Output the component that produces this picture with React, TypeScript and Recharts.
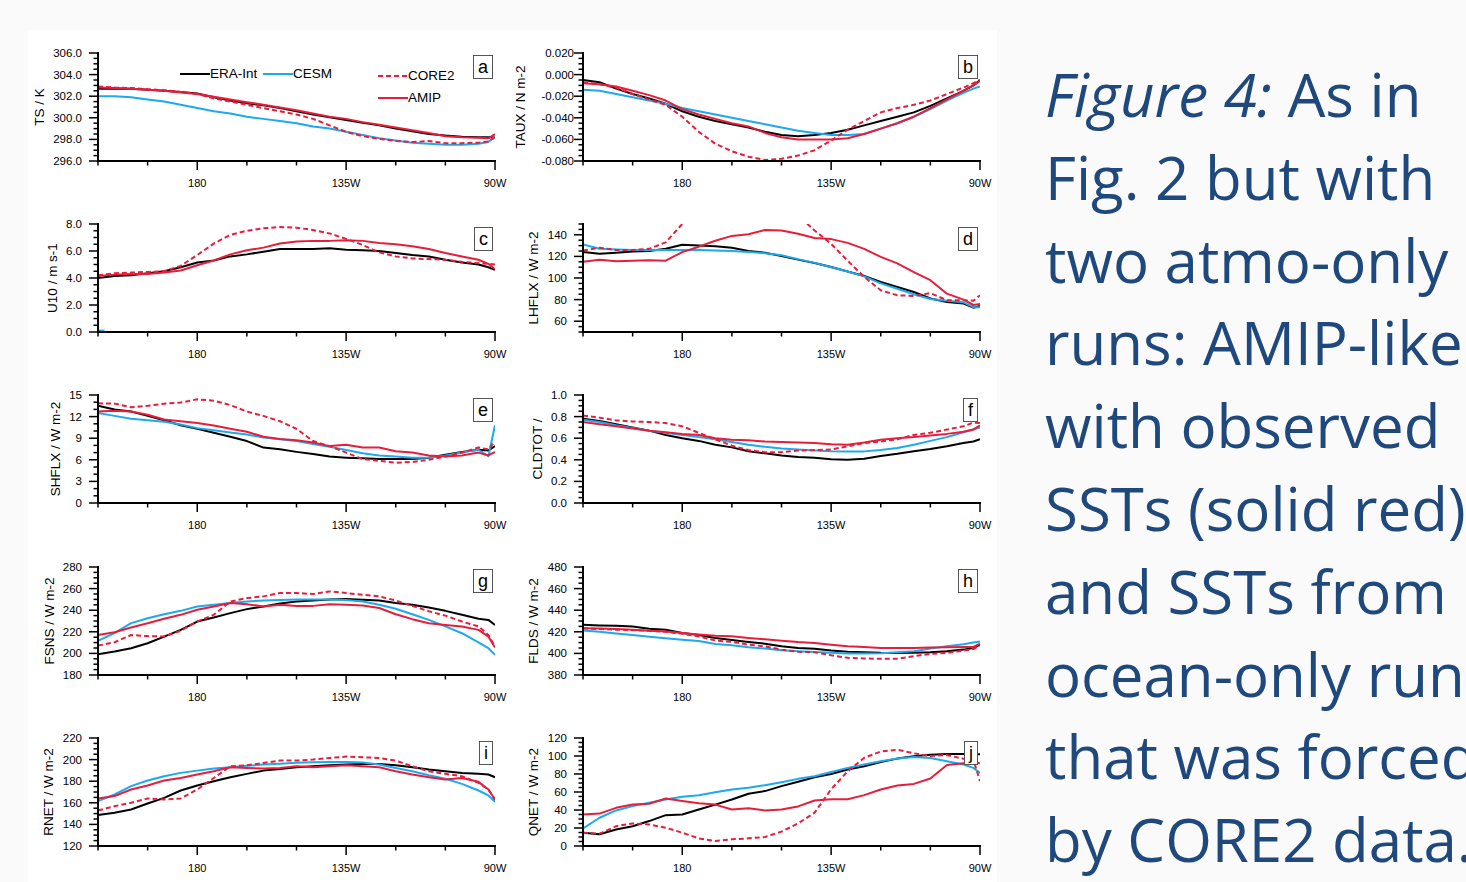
import React from 'react';
import { LineChart, Line, XAxis, YAxis } from 'recharts';

// longitude grid (degrees east), 150E .. 90W
const LON = [150, 155, 160, 165, 170, 175, 180, 185, 190, 195, 200, 205, 210, 215, 220, 225, 230, 235, 240, 245, 250, 255, 260, 265, 268, 270];
const X_TICKS = [150, 165, 180, 195, 210, 225, 240, 255, 270];
const X_MAJOR = [180, 225, 270];
const X_MAJOR_LABELS = ['180', '135W', '90W'];

// a) TS / K
const tsEra = [302.7, 302.7, 302.7, 302.6, 302.5, 302.4, 302.25, 301.9, 301.6, 301.35, 301.15, 300.9, 300.6, 300.3, 300.05, 299.8, 299.55, 299.3, 299.0, 298.75, 298.5, 298.35, 298.25, 298.2, 298.2, 298.2];
const tsCesm = [302.0, 302.0, 301.9, 301.7, 301.5, 301.2, 300.9, 300.6, 300.4, 300.1, 299.9, 299.7, 299.5, 299.2, 299.0, 298.7, 298.4, 298.1, 297.9, 297.7, 297.6, 297.5, 297.5, 297.6, 297.75, 298.3];
const tsCore2 = [302.9, 302.8, 302.75, 302.65, 302.55, 302.4, 302.2, 301.8, 301.5, 301.2, 300.9, 300.6, 300.3, 299.9, 299.3, 298.7, 298.3, 298.05, 297.85, 297.75, 297.85, 297.65, 297.65, 297.7, 297.8, 298.2];
const tsAmip = [302.8, 302.75, 302.7, 302.6, 302.5, 302.35, 302.2, 301.95, 301.7, 301.45, 301.2, 300.95, 300.7, 300.4, 300.1, 299.9, 299.6, 299.35, 299.1, 298.85, 298.6, 298.3, 298.2, 298.15, 298.1, 298.5];
const tsTicks = [296, 298, 300, 302, 304, 306];

// b) TAUX / N m-2
const tauxEra = [-0.005, -0.007, -0.013, -0.018, -0.022, -0.027, -0.034, -0.039, -0.043, -0.046, -0.049, -0.053, -0.056, -0.057, -0.056, -0.054, -0.051, -0.047, -0.043, -0.039, -0.035, -0.029, -0.022, -0.015, -0.010, -0.005];
const tauxCesm = [-0.014, -0.015, -0.018, -0.021, -0.024, -0.027, -0.031, -0.034, -0.037, -0.040, -0.043, -0.046, -0.049, -0.052, -0.054, -0.056, -0.056, -0.055, -0.050, -0.045, -0.039, -0.032, -0.024, -0.017, -0.013, -0.011];
const tauxCore2 = [-0.007, -0.009, -0.012, -0.018, -0.023, -0.028, -0.039, -0.053, -0.064, -0.071, -0.076, -0.079, -0.078, -0.075, -0.070, -0.061, -0.051, -0.043, -0.035, -0.031, -0.028, -0.024, -0.018, -0.012, -0.008, -0.005];
const tauxAmip = [-0.008, -0.009, -0.011, -0.015, -0.019, -0.024, -0.032, -0.037, -0.041, -0.045, -0.048, -0.054, -0.058, -0.060, -0.060, -0.060, -0.059, -0.055, -0.050, -0.045, -0.039, -0.031, -0.023, -0.015, -0.010, -0.006];
const tauxTicks = [-0.08, -0.06, -0.04, -0.02, 0, 0.02];

// c) U10 / m s-1 (CESM only has a stub at the west edge)
const u10Era = [4.0, 4.15, 4.2, 4.35, 4.5, 4.8, 5.15, 5.3, 5.6, 5.75, 5.95, 6.15, 6.15, 6.15, 6.2, 6.1, 6.05, 6.0, 5.85, 5.7, 5.6, 5.35, 5.15, 5.0, 4.8, 4.6];
const u10CesmLon = [150, 152];
const u10Cesm = [0.1, 0.1];
const u10Core2 = [4.2, 4.35, 4.4, 4.45, 4.5, 4.9, 5.7, 6.55, 7.2, 7.5, 7.68, 7.78, 7.73, 7.55, 7.3, 6.9, 6.45, 5.9, 5.6, 5.45, 5.4, 5.35, 5.2, 5.1, 5.05, 5.0];
const u10Amip = [4.15, 4.25, 4.3, 4.3, 4.4, 4.55, 4.95, 5.3, 5.75, 6.05, 6.25, 6.55, 6.7, 6.75, 6.75, 6.8, 6.75, 6.6, 6.5, 6.35, 6.15, 5.85, 5.6, 5.35, 5.05, 4.65];
const u10Ticks = [0, 2, 4, 6, 8];

// d) LHFLX / W m-2
const lhEra = [124, 122.5, 123.4, 124.6, 125, 127, 130.8, 130.2, 129.5, 128, 125, 123.4, 120.3, 117, 113.8, 110.2, 106, 101.8, 96.3, 91.7, 87, 81, 77.8, 76.3, 72.5, 74];
const lhCesm = [131, 127, 126.5, 126, 126, 126, 126, 126, 125.5, 125, 124, 123, 121, 117.5, 114, 110, 106, 101.5, 95, 90, 85, 80.5, 79, 77.5, 73, 73];
const lhCore2 = [125.5, 128, 126, 126, 127, 133, 150, 165, 175, 180, 182, 180, 172, 158, 144, 131.7, 116, 101, 88.6, 84, 83.4, 86, 79.4, 79.4, 79, 84];
const lhAmip = [115, 117, 115.5, 116, 116.5, 116, 124, 129, 134.5, 139, 140.5, 144.5, 144, 141, 137, 136, 132.5, 127, 119.5, 113.5, 105.5, 98, 85.5, 80, 75, 76];
const lhTicks = [60, 80, 100, 120, 140];

// e) SHFLX / W m-2
const shEra = [13.5, 13.0, 12.7, 12.1, 11.5, 10.8, 10.3, 9.75, 9.2, 8.6, 7.7, 7.45, 7.1, 6.8, 6.45, 6.3, 6.2, 6.1, 6.1, 6.1, 6.3, 6.7, 7.1, 7.4, 7.3, 7.9];
const shCesm = [12.5, 12.1, 11.7, 11.5, 11.3, 10.9, 10.4, 10.1, 9.8, 9.5, 9.1, 8.85, 8.6, 8.2, 7.8, 7.35, 6.9, 6.6, 6.45, 6.3, 6.3, 6.6, 7.0, 7.4, 6.5, 10.8];
const shCore2 = [13.85, 13.8, 13.3, 13.5, 13.8, 13.95, 14.4, 14.2, 13.6, 12.7, 12.1, 11.35, 10.3, 8.6, 7.9, 7.0, 6.1, 5.85, 5.6, 5.7, 6.0, 6.45, 7.0, 7.7, 7.45, 8.6];
const shAmip = [12.7, 12.8, 12.7, 12.25, 11.6, 11.35, 11.1, 10.75, 10.3, 9.9, 9.2, 8.9, 8.7, 8.4, 7.9, 8.1, 7.7, 7.7, 7.2, 7.0, 6.6, 6.45, 6.6, 7.0, 6.6, 7.1];
const shTicks = [0, 3, 6, 9, 12, 15];

// f) CLDTOT
const cldEra = [0.78, 0.76, 0.73, 0.70, 0.67, 0.63, 0.60, 0.575, 0.54, 0.515, 0.48, 0.46, 0.44, 0.425, 0.42, 0.405, 0.40, 0.41, 0.435, 0.455, 0.48, 0.50, 0.525, 0.555, 0.57, 0.59];
const cldCesm = [0.77, 0.75, 0.72, 0.695, 0.67, 0.65, 0.63, 0.61, 0.59, 0.565, 0.54, 0.52, 0.505, 0.495, 0.487, 0.48, 0.478, 0.478, 0.49, 0.51, 0.54, 0.575, 0.61, 0.655, 0.68, 0.70];
const cldCore2 = [0.81, 0.79, 0.765, 0.755, 0.75, 0.74, 0.71, 0.65, 0.59, 0.53, 0.49, 0.47, 0.47, 0.485, 0.49, 0.495, 0.525, 0.555, 0.57, 0.59, 0.63, 0.65, 0.68, 0.71, 0.745, 0.74];
const cldAmip = [0.75, 0.73, 0.71, 0.69, 0.67, 0.655, 0.64, 0.63, 0.60, 0.585, 0.58, 0.57, 0.565, 0.56, 0.555, 0.545, 0.54, 0.56, 0.585, 0.60, 0.61, 0.625, 0.64, 0.66, 0.68, 0.72];
const cldTicks = [0, 0.2, 0.4, 0.6, 0.8, 1.0];

// g) FSNS / W m-2
const fsEra = [199.2, 201.7, 204.8, 209.4, 215.6, 221.8, 229.5, 233.3, 237.3, 241, 243.5, 246.3, 248.1, 249, 250, 250.3, 249.7, 249, 246.6, 245, 242.5, 239.4, 235.7, 232, 231, 226.4];
const fsCesm = [211.6, 218.7, 228, 232.6, 236.3, 239.4, 243.5, 245, 246.6, 248, 249, 249.5, 249.8, 250, 250, 249.5, 248, 245, 241.3, 236.3, 231, 225, 218.7, 210.3, 204.8, 198.6];
const fsCore2 = [207.2, 210.3, 217, 216, 215.6, 220.9, 229.5, 235.7, 248, 251.2, 252.8, 255.9, 255.9, 255, 257.4, 255.9, 254.3, 252.8, 249, 244, 239, 235, 229.5, 225, 217, 206.3];
const fsAmip = [217, 219.6, 224, 228, 232, 235.7, 240.4, 243.5, 246.6, 245.6, 243.5, 245, 244, 244, 245.6, 245, 244.4, 242, 236.3, 231.7, 228, 226.4, 225, 221.8, 215.6, 205.4];
const fsTicks = [180, 200, 220, 240, 260, 280];

// h) FLDS / W m-2
const fldsEra = [426.5, 425.9, 425.5, 424.8, 422.8, 421.8, 418.8, 417, 414.3, 412.5, 410.6, 409, 406.6, 405, 404.2, 402.6, 401.5, 401.1, 400.5, 400.4, 400.5, 401, 402, 403.5, 405, 408];
const fldsCesm = [421.3, 420, 418.5, 417, 415.5, 414, 412.7, 411.5, 408.7, 407.5, 405.7, 404.5, 403, 402, 401.2, 400.5, 400, 400, 400.2, 401, 402, 404.5, 406.6, 408.5, 410, 411];
const fldsCore2 = [423.4, 422.5, 422, 421.5, 421, 420, 418.2, 415.8, 412, 410.6, 408.1, 406.5, 403.5, 401.5, 401.1, 398.3, 395.9, 395.3, 395, 395, 397.4, 399.6, 400.5, 402.6, 404, 407];
const fldsAmip = [423.4, 423, 422.5, 422, 421, 420.3, 418.8, 417.5, 416.4, 415.8, 414.3, 413, 411.8, 410.5, 409.7, 408.1, 406.6, 406, 405.1, 405, 405.1, 405.5, 405.7, 406, 406, 409];
const fldsTicks = [380, 400, 420, 440, 460, 480];

// i) RNET / W m-2
const rnEra = [148.6, 150.8, 153.8, 159.4, 164.6, 171.4, 176, 180, 183.7, 186.8, 189.8, 191.4, 192.9, 193.8, 194.8, 195.4, 196, 196, 194.8, 192.9, 190.8, 189.2, 187.7, 186.8, 186.2, 183.7];
const rnCesm = [161.5, 167.7, 175.4, 180.6, 184.6, 187.7, 189.8, 191.7, 192.9, 194.2, 195.4, 196.2, 197, 197.5, 197.7, 197.7, 197.3, 195.4, 192.3, 189.2, 185.5, 182.2, 177.5, 171.4, 166.8, 161];
const rnCore2 = [152.9, 156.9, 160, 164, 163, 164, 172.3, 183, 193.8, 194.8, 196.9, 199.1, 199.1, 200, 201.5, 202.8, 202.2, 201.5, 199.1, 193.8, 189.2, 186.8, 184.6, 178.5, 172.3, 163];
const rnAmip = [164, 166.2, 172.3, 176, 180.6, 183, 186.2, 189.2, 192.9, 192.3, 191.7, 192.3, 193.8, 192.9, 193.8, 194.8, 193.8, 192.9, 189.2, 186.2, 183.7, 181.5, 183, 179.4, 172.3, 163];
const rnTicks = [120, 140, 160, 180, 200, 220];

// j) QNET / W m-2
const qnEra = [14.8, 13, 18.4, 22, 27.7, 34.3, 35, 40.6, 46, 51.7, 58, 61, 66.5, 71.3, 76.4, 80.1, 84.9, 88.6, 93.4, 97.1, 99.7, 101.5, 102.3, 102.3, 102, 102];
const qnCesm = [19.6, 31.4, 39.5, 44.3, 48, 51.7, 54.6, 56.5, 59.8, 62.8, 64.6, 67.6, 70.9, 74.6, 77.5, 82.3, 86.8, 90.5, 94.2, 97.1, 99, 97.8, 94.2, 90.5, 86.8, 81.2];
const qnCore2 = [14.8, 13.7, 22, 25.1, 24, 20.3, 14.8, 8.5, 5.5, 7.4, 8.5, 10, 16, 25, 37, 63, 83, 98, 105, 107, 103, 100, 101, 97, 96, 72];
const qnAmip = [35, 36, 42.4, 46, 47, 52.8, 50, 47.6, 46, 40.6, 42, 39.5, 40.6, 44, 50.6, 52, 52, 56.5, 62.8, 67.2, 69, 75, 90, 92, 93, 92];
const qnTicks = [0, 20, 40, 60, 80, 100, 120];

const CAPTION_LINES = [
  'As in',
  'Fig. 2 but with',
  'two atmo-only',
  'runs: AMIP-like',
  'with observed',
  'SSTs (solid red)',
  'and SSTs from',
  'ocean-only run',
  'that was forced',
  'by CORE2 data.',
];

const BLACK = '#000000';
const BLUE = '#1ca9ef';
const RED = '#e61e3c';
const FONT = '"Liberation Sans", Arial, Helvetica, sans-serif';

interface PanelDef {
  letter: string;
  row: number;
  col: number;
  yLabel: string;
  labelX: number;
  domain: [number, number];
  majors: number[];
  minor: number;
  dec: number;
  gap?: number;
  era: number[];
  cesm: number[] | null;
  core2: number[];
  amip: number[];
}

const PANELS: PanelDef[] = [
  { letter: 'a', row: 0, col: 0, yLabel: 'TS / K', labelX: 9, domain: [296, 306], majors: tsTicks, minor: 0.5, dec: 1, era: tsEra, cesm: tsCesm, core2: tsCore2, amip: tsAmip },
  { letter: 'b', row: 0, col: 1, yLabel: 'TAUX / N m-2', labelX: 5, domain: [-0.08, 0.02], majors: tauxTicks, minor: 0.005, dec: 3, gap: 9, era: tauxEra, cesm: tauxCesm, core2: tauxCore2, amip: tauxAmip },
  { letter: 'c', row: 1, col: 0, yLabel: 'U10 / m s-1', labelX: 21.5, domain: [0, 8], majors: u10Ticks, minor: 0.5, dec: 1, era: u10Era, cesm: null, core2: u10Core2, amip: u10Amip },
  { letter: 'd', row: 1, col: 1, yLabel: 'LHFLX / W m-2', labelX: 18, domain: [50, 150], majors: lhTicks, minor: 5, dec: 0, era: lhEra, cesm: lhCesm, core2: lhCore2, amip: lhAmip },
  { letter: 'e', row: 2, col: 0, yLabel: 'SHFLX / W m-2', labelX: 25, domain: [0, 15], majors: shTicks, minor: 1, dec: 0, era: shEra, cesm: shCesm, core2: shCore2, amip: shAmip },
  { letter: 'f', row: 2, col: 1, yLabel: 'CLDTOT /', labelX: 22, domain: [0, 1], majors: cldTicks, minor: 0.05, dec: 1, era: cldEra, cesm: cldCesm, core2: cldCore2, amip: cldAmip },
  { letter: 'g', row: 3, col: 0, yLabel: 'FSNS / W m-2', labelX: 19, domain: [180, 280], majors: fsTicks, minor: 5, dec: 0, era: fsEra, cesm: fsCesm, core2: fsCore2, amip: fsAmip },
  { letter: 'h', row: 3, col: 1, yLabel: 'FLDS / W m-2', labelX: 18, domain: [380, 480], majors: fldsTicks, minor: 5, dec: 0, era: fldsEra, cesm: fldsCesm, core2: fldsCore2, amip: fldsAmip },
  { letter: 'i', row: 4, col: 0, yLabel: 'RNET / W m-2', labelX: 18, domain: [120, 220], majors: rnTicks, minor: 5, dec: 0, era: rnEra, cesm: rnCesm, core2: rnCore2, amip: rnAmip },
  { letter: 'j', row: 4, col: 1, yLabel: 'QNET / W m-2', labelX: 18, domain: [0, 120], majors: qnTicks, minor: 5, dec: 0, era: qnEra, cesm: qnCesm, core2: qnCore2, amip: qnAmip },
];

const ROW_TOPS = [52.5, 224, 395, 566.5, 738];
const COL_LEFTS = [30, 515];
const CH_W = 480;
const X_AXIS_H = 34;
const PLOT_H = 108;
const MARGIN = { top: 12, right: 15, left: 0, bottom: 0 };
const CH_H = MARGIN.top + PLOT_H + X_AXIS_H;
const AXIS_LINE = { stroke: '#000', strokeWidth: 2, strokeLinecap: 'square' as const };
const MAJ = 9;
const MIN = 4.5;

const near = (list: number[], v: number) => list.some((m) => Math.abs(m - v) < 1e-7);

function buildTicks(min: number, max: number, step: number) {
  const n = Math.round((max - min) / step);
  const out: number[] = [];
  for (let i = 0; i <= n; i++) out.push(+(min + i * step).toFixed(6));
  return out;
}

const lineProps = { type: 'linear' as const, dot: false, activeDot: false, isAnimationActive: false, strokeWidth: 2, xAxisId: 'b', yAxisId: 'l', strokeLinejoin: 'round' as const };

function Panel({ p }: { p: PanelDef }) {
  const left = COL_LEFTS[p.col];
  const top = ROW_TOPS[p.row] - MARGIN.top;
  const data = LON.map((lon, i) => ({
    lon,
    era: p.era[i],
    cesm: p.cesm ? p.cesm[i] : null,
    core2: p.core2[i],
    amip: p.amip[i],
  }));
  const yTicks = buildTicks(p.domain[0], p.domain[1], p.minor);
  const gap = p.gap ?? 16;

  const bottomTick = (props: any) => {
    const { x, y, payload } = props;
    const idx = X_MAJOR.indexOf(payload.value);
    return (
      <g>
        <line x1={x} x2={x} y1={y} y2={y + (idx >= 0 ? MAJ : MIN)} stroke="#000" strokeWidth={1.5} />
        {idx >= 0 && (
          <text x={x} y={y + 22} textAnchor="middle" dominantBaseline="central" fontSize={11} fill="#000">
            {X_MAJOR_LABELS[idx]}
          </text>
        )}
      </g>
    );
  };
  const topTick = (props: any) => {
    const { x, y, payload } = props;
    const major = near(X_MAJOR, payload.value);
    return <line x1={x} x2={x} y1={y} y2={y - (major ? MAJ : MIN)} stroke="#000" strokeWidth={1.5} />;
  };
  const leftTick = (props: any) => {
    const { x, y, payload } = props;
    const major = near(p.majors, payload.value);
    return (
      <g>
        <line x1={x} x2={x - (major ? MAJ : MIN)} y1={y} y2={y} stroke="#000" strokeWidth={1.5} />
        {major && (
          <text x={x - gap} y={y} textAnchor="end" dominantBaseline="central" fontSize={11.5} fill="#000">
            {Number(payload.value).toFixed(p.dec)}
          </text>
        )}
      </g>
    );
  };
  const rightTick = (props: any) => {
    const { x, y, payload } = props;
    const major = near(p.majors, payload.value);
    return <line x1={x} x2={x + (major ? MAJ : MIN)} y1={y} y2={y} stroke="#000" strokeWidth={1.5} />;
  };

  return (
    <div style={{ position: 'absolute', left, top, width: CH_W, height: CH_H }}>
      <LineChart width={CH_W} height={CH_H} data={data} margin={MARGIN}>
        <XAxis xAxisId="b" dataKey="lon" type="number" domain={[150, 270]} ticks={X_TICKS} interval={0} height={X_AXIS_H}
          tickSize={0} tickMargin={0} tick={bottomTick} axisLine={AXIS_LINE} allowDataOverflow />
        <XAxis xAxisId="t" orientation="top" dataKey="lon" type="number" domain={[150, 270]} ticks={X_TICKS} interval={0} height={0}
          tickSize={0} tickMargin={0} tick={topTick} axisLine={AXIS_LINE} allowDataOverflow />
        <YAxis yAxisId="l" type="number" domain={p.domain} ticks={yTicks} interval={0} width={68}
          tickSize={0} tickMargin={0} tick={leftTick} axisLine={AXIS_LINE} allowDataOverflow />
        <YAxis yAxisId="r" orientation="right" type="number" domain={p.domain} ticks={yTicks} interval={0} width={0}
          tickSize={0} tickMargin={0} tick={rightTick} axisLine={AXIS_LINE} allowDataOverflow />
        <Line {...lineProps} dataKey="era" stroke={BLACK} />
        {p.cesm && <Line {...lineProps} dataKey="cesm" stroke={BLUE} />}
        {!p.cesm && (
          <Line {...lineProps} data={u10CesmLon.map((lon, i) => ({ lon, cesm: u10Cesm[i] }))} dataKey="cesm" stroke={BLUE} />
        )}
        <Line {...lineProps} dataKey="core2" stroke={RED} strokeDasharray="5 3" />
        <Line {...lineProps} dataKey="amip" stroke={RED} />
      </LineChart>
      <div
        style={{
          position: 'absolute', left: p.labelX, top: MARGIN.top + PLOT_H / 2,
          transform: 'translate(-50%, -50%) rotate(-90deg)', whiteSpace: 'nowrap', fontSize: 13.5, color: '#000',
        }}
      >
        {p.yLabel}
      </div>
      <div
        style={{
          position: 'absolute', right: MARGIN.right + 2, top: MARGIN.top + 2.5, border: '1px solid #555', background: '#fff',
          fontSize: 18, lineHeight: '22px', padding: '0 4px', color: '#000',
        }}
      >
        {p.letter}
      </div>
      {p.letter === 'a' && <LegendBox />}
    </div>
  );
}

const LEGEND_ITEMS = [
  { name: 'ERA-Int', color: BLACK, dash: undefined as string | undefined, x: 150, y: 33.5 },
  { name: 'CESM', color: BLUE, dash: undefined, x: 233, y: 33.5 },
  { name: 'CORE2', color: RED, dash: '5 3', x: 348, y: 35 },
  { name: 'AMIP', color: RED, dash: undefined, x: 348, y: 57.3 },
];

function LegendBox() {
  return (
    <>
      {LEGEND_ITEMS.map((it) => (
        <div key={it.name} style={{ position: 'absolute', left: it.x, top: it.y - 9, height: 18, display: 'flex', alignItems: 'center' }}>
          <svg width={30} height={18} style={{ display: 'block' }}>
            <line x1={0} x2={30} y1={9} y2={9} stroke={it.color} strokeWidth={2} strokeDasharray={it.dash} />
          </svg>
          <span style={{ fontSize: 13.5, color: '#000', lineHeight: '18px' }}>{it.name}</span>
        </div>
      ))}
    </>
  );
}

function Caption() {
  return (
    <div
      style={{
        position: 'absolute', left: 1045, top: 53, fontFamily: '"Open Sans", "Noto Sans", sans-serif', fontSize: 60,
        lineHeight: '82.8px', color: '#1f497d', whiteSpace: 'pre',
      }}
    >
      {CAPTION_LINES.map((line, i) => (
        <div key={i}>
          {i === 0 && <i>Figure 4: </i>}
          {line}
        </div>
      ))}
    </div>
  );
}

export default function App() {
  return (
    <div style={{ position: 'absolute', left: 0, top: 0, width: 1466, height: 882, background: '#fafafa', overflow: 'hidden', fontFamily: FONT }}>
      <div style={{ position: 'absolute', left: 28, top: 30, width: 969, height: 852, background: '#ffffff' }} />
      {PANELS.map((p) => (
        <Panel key={p.letter} p={p} />
      ))}
      <Caption />
    </div>
  );
}
